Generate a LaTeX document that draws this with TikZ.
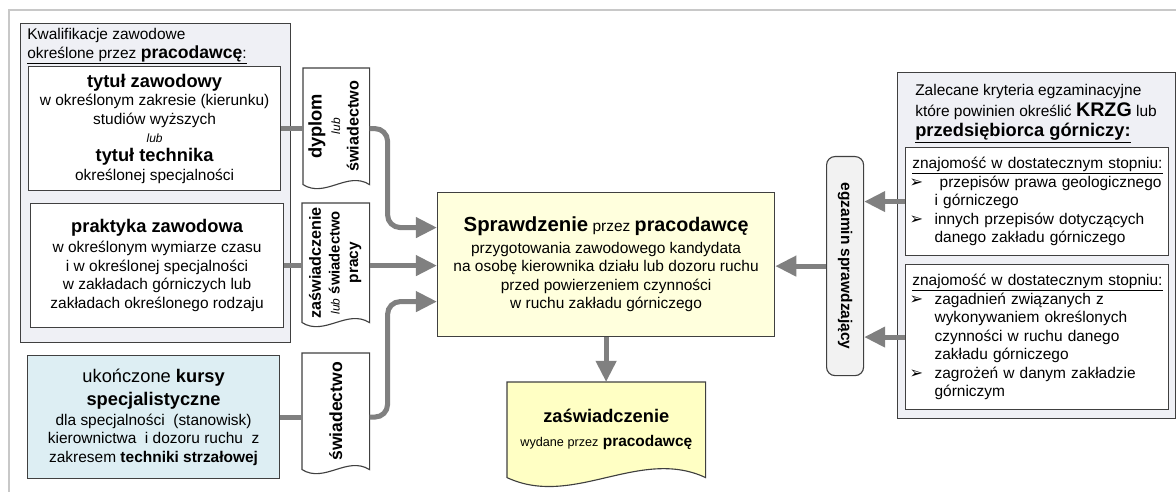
\documentclass[tikz,border=0pt]{standalone}
\usepackage{fontspec}
\setmainfont{Liberation Sans}
\newfontfamily\symfont{DejaVu Sans}
\usepackage{graphicx}
\usetikzlibrary{positioning, arrows.meta, calc, backgrounds}
\definecolor{ramkaGray}{RGB}{200,200,200}
\definecolor{grupaFill}{RGB}{239,240,245}
\definecolor{kursCyan}{RGB}{221,238,243}
\definecolor{sprYellow}{RGB}{255,255,221}
\definecolor{wydYellow}{RGB}{255,255,196}
\definecolor{egzGray}{RGB}{242,242,242}
\definecolor{strzalkaGray}{RGB}{128,128,128}
\definecolor{obrys}{RGB}{64,64,64}
\newcommand{\tekst}{\fontsize{11}{13.2}\selectfont}
\newcommand{\lubmale}{{\fontsize{8.5}{10}\selectfont\itshape lub}}
\newcommand{\punkt}{\makebox[0.625cm][l]{\symfont\fontsize{11.5}{12}\selectfont ➢}}
\newcommand{\wciecie}{\hspace*{0.625cm}}
% ksztalt dokumentu (falista dolna krawedz)
\newcommand{\dokument}[3]{%
	\begin{pgfonlayer}{background}
		\draw[dokline, fill=#2] (#1.north west) -- (#1.north east) -- (#1.south east)
			.. controls ($(#1.south east)!0.333!(#1.south west)+(0pt,#3)$)
			and ($(#1.south east)!0.667!(#1.south west)-(0pt,#3)$) .. (#1.south west) -- cycle;
	\end{pgfonlayer}}
\tikzset{
	grupabox/.style={rectangle, draw=obrys, fill=grupaFill, line width=0.8pt,
		anchor=north west, inner sep=0pt},
	infobox/.style={rectangle, draw=obrys, fill=white, line width=0.8pt,
		anchor=north west, align=center, font=\tekst, inner sep=2pt},
	wiedzabox/.style={rectangle, draw=obrys, fill=white, line width=0.8pt,
		anchor=north west, align=left, font=\tekst, inner xsep=0.1cm, inner ysep=0pt,
		text width=6.375cm, minimum width=6.575cm},
	dokbox/.style={rectangle, anchor=north west, inner sep=0pt, align=center, font=\tekst},
	dokline/.style={draw=obrys, line width=0.8pt},
	egzbox/.style={rectangle, rounded corners=6pt, draw=obrys, fill=egzGray, line width=0.8pt,
		anchor=north west, inner sep=0pt, font=\tekst},
	naglowek/.style={anchor=north west, align=left, font=\tekst, inner sep=0pt},
	flowarr/.style={-{Triangle[length=15pt, width=14pt]}, line width=3.6pt, draw=strzalkaGray},
	flowline/.style={line width=3.6pt, draw=strzalkaGray},
	ramkaline/.style={draw=ramkaGray, line width=1.2pt}
}

\begin{document}
\begin{tikzpicture}[x=0.025cm, y=-0.025cm]
	\useasboundingbox (0,0) rectangle (1176,492);
	\draw[ramkaline] (9,492) -- (9,10) -- (1176,10);
	% kwalifikacje zawodowe
	\node[grupabox, minimum width=6.75cm, minimum height=7.975cm] (kwal) at (20,23) {};
	\node[naglowek] (kwalh) at (27,28) {Kwalifikacje zawodowe\\
		\underline{określone przez {\fontsize{12.5}{14}\selectfont\bfseries pracodawcę}:}};
	\node[infobox, minimum width=6.3cm, minimum height=3.1cm] (tytul) at (28,66)
		{{\fontsize{13}{14}\selectfont\bfseries tytuł zawodowy}\\
		w określonym zakresie (kierunku)\\
		studiów wyższych\\
		\lubmale\\
		{\fontsize{13}{14}\selectfont\bfseries tytuł technika}\\
		określonej specjalności};
	\node[infobox, minimum width=6.325cm, minimum height=3.1cm] (prakt) at (30,203)
		{{\fontsize{13}{14}\selectfont\bfseries praktyka zawodowa}\\[1pt]
		w określonym wymiarze czasu\\
		i w określonej specjalności\\
		w zakładach górniczych lub\\
		zakładach określonego rodzaju};
	\node[infobox, fill=kursCyan, minimum width=6.3cm, minimum height=3.075cm] (kursy) at (27,355)
		{{\fontsize{13}{14}\selectfont ukończone \textbf{kursy}}\\[3pt]
		{\fontsize{13}{14}\selectfont\bfseries specjalistyczne}\\[1pt]
		dla specjalności\ \ (stanowisk)\\
		kierownictwa\ \ i dozoru ruchu\ \ z\\
		zakresem \textbf{techniki strzałowej}};
	% dokumenty
	\node[dokbox, minimum width=1.65cm, minimum height=2.9cm] (dypl) at (303,68)
		{\rotatebox{90}{\begin{tabular}{@{}c@{}}{\fontsize{13}{14}\selectfont\bfseries dyplom}\\
		\lubmale\\ {\fontsize{11.5}{13}\selectfont\bfseries świadectwo}\end{tabular}}};
	\dokument{dypl}{white}{10pt}
	\node[dokbox, minimum width=1.675cm, minimum height=2.975cm] (swpr) at (302,203)
		{\rotatebox{90}{\begin{tabular}{@{}c@{}}{\fontsize{11.5}{13}\selectfont\bfseries zaświadczenie}\\
		\lubmale\ {\fontsize{10.5}{12}\selectfont\bfseries świadectwo}\\
		{\fontsize{11}{13}\selectfont\bfseries pracy}\end{tabular}}};
	\dokument{swpr}{white}{10pt}
	\node[dokbox, minimum width=1.675cm, minimum height=2.9cm] (swkurs) at (302,353)
		{\rotatebox{90}{\fontsize{12.5}{14}\selectfont\bfseries świadectwo}};
	\dokument{swkurs}{white}{10pt}
	% sprawdzenie
	\node[infobox, fill=sprYellow, minimum width=8.425cm, minimum height=3.6cm] (spr) at (437,192)
		{{\fontsize{14.5}{16}\selectfont\bfseries Sprawdzenie} przez
		{\fontsize{14}{16}\selectfont\bfseries pracodawcę}\\[2pt]
		przygotowania zawodowego kandydata\\
		na osobę kierownika działu lub dozoru ruchu\\
		przed powierzeniem czynności\\
		w ruchu zakładu górniczego};
	\node[dokbox, minimum width=4.95cm, minimum height=2.375cm] (wyd) at (507,382)
		{{\fontsize{13}{14}\selectfont\bfseries zaświadczenie}\\[4pt]
		{\fontsize{9}{11}\selectfont wydane przez} {\bfseries pracodawcę}};
	\dokument{wyd}{wydYellow}{22pt}
	% egzamin
	\node[egzbox, minimum width=0.925cm, minimum height=5.475cm] (egz) at (826,156)
		{\rotatebox{-90}{\bfseries egzamin sprawdzający}};
	\node[grupabox, minimum width=6.95cm, minimum height=8.65cm] (kryt) at (897,72) {};
	\node[naglowek] (kryth) at (915,84) {Zalecane kryteria egzaminacyjne\\[1.5pt]
		które powinien określić {\fontsize{14}{15}\selectfont\bfseries KRZG} lub\\[1pt]
		\underline{\fontsize{13}{14}\selectfont\bfseries przedsiębiorca górniczy:}};
	\node[wiedzabox, minimum height=2.7cm] (wiedza1) at (905,147)
		{\hspace*{2pt}\underline{znajomość w dostatecznym stopniu:}\\
		\punkt\ przepisów prawa geologicznego\\
		\wciecie i górniczego\\
		\punkt innych przepisów dotyczących\\
		\wciecie danego zakładu górniczego};
	\node[wiedzabox, minimum height=3.625cm] (wiedza2) at (905,264)
		{\hspace*{2pt}\underline{znajomość w dostatecznym stopniu:}\\
		\punkt zagadnień związanych z\\
		\wciecie wykonywaniem określonych\\
		\wciecie czynności w ruchu danego\\
		\wciecie zakładu górniczego\\
		\punkt zagrożeń w danym zakładzie\\
		\wciecie górniczym};
	% polaczenia
	\draw[flowline] (tytul.east) -- (tytul.east -| dypl.west);
	\draw[flowline] (prakt.east) -- (prakt.east -| swpr.west);
	\draw[flowline] (kursy.east) -- (kursy.east -| swkurs.west);
	\draw[flowarr, rounded corners=9pt] (tytul.east -| dypl.east) -- ++(18,0) |- ([yshift=0.925cm]spr.west);
	\draw[flowarr] (prakt.east -| swpr.east) -- (prakt.east -| spr.west);
	\draw[flowarr, rounded corners=9pt] (kursy.east -| swkurs.east) -- ++(18,0) |- ([yshift=-0.925cm]spr.west);
	\foreach \a in {wiedza1, wiedza2}
		\draw[flowarr] (\a.west) -- (\a.west -| egz.east);
	\draw[flowarr] (egz.west) -- (egz.west -| spr.east);
	\draw[flowarr] (spr.south) -- (spr.south |- wyd.north);
\end{tikzpicture}
\end{document}
